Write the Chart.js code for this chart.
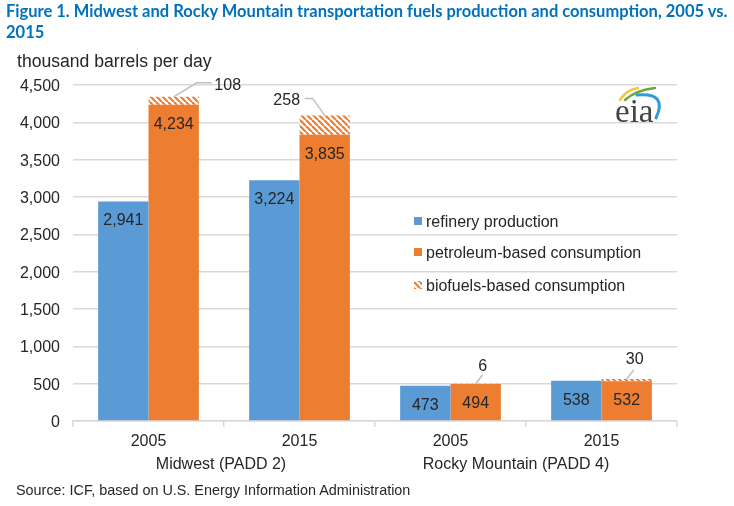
<!DOCTYPE html>
<html>
<head>
<meta charset="utf-8">
<style>
  body{margin:0;background:#fff;overflow:hidden}
  #wrap{position:relative;width:734px;height:506px}
  #wrap div{position:absolute;white-space:nowrap}
  #title{left:6px;top:1px;font:bold 16.5px/21px Lato,sans-serif;color:#0071bc}
  #unit{left:17px;top:51px;font:17.6px "Liberation Sans",Arial,sans-serif;color:#262626}
  #source{left:16px;top:482px;font:14.4px "Liberation Sans",Arial,sans-serif;color:#262626}
</style>
</head>
<body>
<div id="wrap">
  <canvas id="chart" width="734" height="506"></canvas>
  <div id="title">Figure 1. Midwest and Rocky Mountain transportation fuels production and consumption, 2005 vs.<br>2015</div>
  <div id="unit">thousand barrels per day</div>
  <div id="source">Source: ICF, based on U.S. Energy Information Administration</div>
</div>
<script src="https://cdn.jsdelivr.net/npm/chart.js@4/dist/chart.umd.min.js"></script>
<script>
const years = ['2005','2015','2005','2015'];
const regions = ['Midwest (PADD 2)','Rocky Mountain (PADD 4)'];
const refinery = [2941,3224,473,538];
const petroleum = [4234,3835,494,532];
const biofuels = [108,258,6,30];
const seriesNames = ['refinery production','petroleum-based consumption','biofuels-based consumption'];

const BLUE='#5b9bd5', ORANGE='#ed7d31', GRID='#d9d9d9', TEXT='#262626';
const FONT='"Liberation Sans",Arial,sans-serif';

/* hatch for the biofuels bars */
function makeHatch(){
  const c=document.createElement('canvas'); c.width=c.height=6;
  const x=c.getContext('2d');
  x.fillStyle='#fff'; x.fillRect(0,0,6,6);
  x.strokeStyle=ORANGE; x.lineWidth=2.2;
  [[-6,0],[0,0],[6,0]].forEach(o=>{
    x.beginPath(); x.moveTo(o[0],0); x.lineTo(o[0]+6,6); x.stroke();
  });
  return x.createPattern(c,'repeat');
}
const hatch=makeHatch();

/* leader lines, offsets from the top centre of each biofuels bar */
const leaders=[
  {text:[54,-11.5],line:[[0,0],[23,-14],[38,-14]]},
  {text:[-38,-14.5],line:[[0,0],[-12,-17],[-20,-17]]},
  {text:[7,-17.5],line:[[0,0],[7,-9]]},
  {text:[8,-19.5],line:[[0,0],[7,-9]]}
];
const regionShift=[-3,-10];

const overlay={
  id:'overlay',
  afterDatasetsDraw(chart){
    const c=chart.ctx, x=chart.scales.x;
    c.save();
    c.textAlign='center'; c.textBaseline='middle';
    c.font='16px '+FONT; c.fillStyle=TEXT;

    // values inside the bars
    [0,1].forEach(d=>{
      chart.getDatasetMeta(d).data.forEach((b,i)=>{
        const v=chart.data.datasets[d].data[i];
        c.fillText(v.toLocaleString('en-US'),b.x,b.y+19.5);
      });
    });

    // biofuels labels
    chart.getDatasetMeta(2).data.forEach((b,i)=>{
      const l=leaders[i];
      c.strokeStyle='#bfbfbf'; c.lineWidth=1.5;
      c.beginPath();
      l.line.forEach((p,k)=>k?c.lineTo(b.x+p[0],b.y+p[1]):c.moveTo(b.x+p[0],b.y+p[1]));
      c.stroke();
      c.fillText(biofuels[i],b.x+l.text[0],b.y+l.text[1]);
    });

    // region labels under the years
    regions.forEach((r,i)=>{
      const mid=(x.getPixelForValue(i*2)+x.getPixelForValue(i*2+1))/2;
      c.fillText(r,mid+regionShift[i],464.5);
    });

    // legend
    c.textAlign='left';
    const ly=[221,252,285];
    seriesNames.forEach((n,i)=>{
      c.fillStyle=[BLUE,ORANGE,hatch][i];
      c.fillRect(414,ly[i]-4,8,8);
      c.fillStyle=TEXT;
      c.fillText(n,426,ly[i]+1.5);
    });

    // eia logo
    c.lineCap='round';
    c.lineWidth=2.5; c.strokeStyle='#f5c93b';
    c.beginPath(); c.moveTo(620,100); c.quadraticCurveTo(626,90,638,88); c.stroke();
    c.lineWidth=2.5; c.strokeStyle='#6aa842';
    c.beginPath(); c.moveTo(625,100); c.quadraticCurveTo(636,90,655,88); c.stroke();
    c.lineWidth=3; c.strokeStyle='#2f9bd7';
    c.beginPath(); c.moveTo(637,95); c.quadraticCurveTo(668,92,656,118); c.stroke();
    c.fillStyle='#444'; c.textAlign='left'; c.textBaseline='alphabetic';
    c.font='33px "Liberation Serif",serif';
    c.fillText('eia',615,122);
    c.restore();
  }
};

new Chart(document.getElementById('chart'),{
  type:'bar',
  data:{
    labels:years,
    datasets:[
      {label:seriesNames[0],data:refinery,backgroundColor:BLUE,stack:'prod'},
      {label:seriesNames[1],data:petroleum,backgroundColor:ORANGE,stack:'cons'},
      {label:seriesNames[2],data:biofuels,backgroundColor:hatch,stack:'cons'}
    ]
  },
  options:{
    responsive:false,animation:false,
    layout:{padding:{top:85,right:57,left:0,bottom:0}},
    datasets:{bar:{categoryPercentage:.667,barPercentage:1,borderWidth:0}},
    plugins:{legend:{display:false},tooltip:{enabled:false}},
    scales:{
      x:{
        stacked:true,
        afterFit(s){s.height=85},
        grid:{color:GRID,lineWidth:1.5,drawOnChartArea:false,tickLength:6,offset:true},
        border:{color:GRID,width:1.5},
        ticks:{color:TEXT,font:{family:FONT,size:16},padding:5,maxRotation:0}
      },
      y:{
        stacked:true,min:0,max:4500,
        afterFit(s){s.width=73},
        grid:{color:GRID,lineWidth:1.5,drawTicks:false},
        border:{display:false},
        ticks:{stepSize:500,color:TEXT,padding:13,labelOffset:1.5,font:{family:FONT,size:16},callback:v=>v.toLocaleString('en-US')}
      }
    }
  },
  plugins:[overlay]
});
</script>
</body>
</html>
